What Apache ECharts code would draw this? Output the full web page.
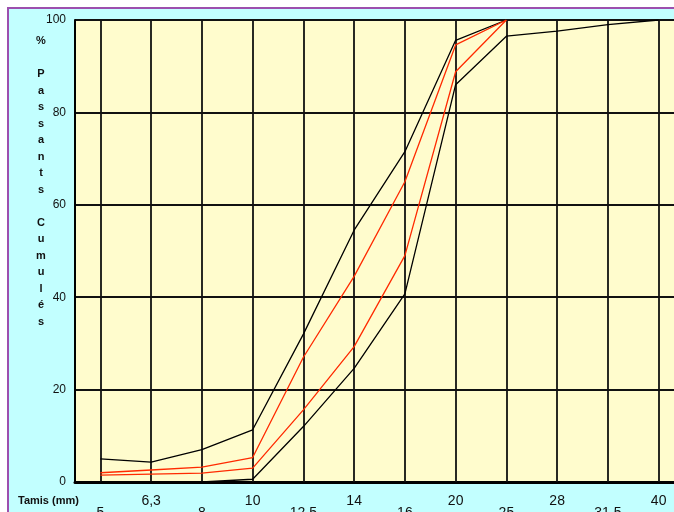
<!DOCTYPE html>
<html><head><meta charset="utf-8">
<script src="https://cdn.jsdelivr.net/npm/echarts@6/dist/echarts.min.js"></script>
<style>html,body{margin:0;padding:0;background:#fff}#c{width:674px;height:512px}</style>
</head><body><div id="c"></div>
<script>
// Sieve sizes (mm)
const sieves = ['5', '6,3', '8', '10', '12,5', '14', '16', '20', '25', '28', '31,5', '40'];
// Black envelope curves (% passing)
const upperLimit = [5, 4.3, 7, 11.3, 32, 54.5, 71.5, 95.6, 100, null, null, null];
const lowerLimit = [0, 0, 0, 0.6, 12, 24.6, 40.7, 86, 96.5, 97.6, 99, 100];
// Red curves (% passing)
const upperRed = [2, 2.6, 3.2, 5.3, 27, 44.5, 65, 94.6, 100, null, null, null];
const lowerRed = [1.5, 1.7, 1.9, 3, 15.6, 29.3, 49, 88.8, 100, null, null, null];
const yTicks = [0, 20, 40, 60, 80, 100];
const yTitle = '%\n\nP\na\ns\ns\na\nn\nt\ns\n\nC\nu\nm\nu\nl\né\ns';

const chart = echarts.init(document.getElementById('c'));
const lineS = (name, data, color) => ({
  name, type: 'line', data, symbol: 'none', connectNulls: false,
  lineStyle: { color, width: 1.3 }, z: 5, animation: false
});
const grid = {
  ...lineS('grid', [], '#000'),
  markLine: {
    silent: true, symbol: 'none', animation: false,
    label: { show: false },
    lineStyle: { color: '#111', width: 1.8, type: 'solid' },
    data: sieves.map((s, i) => ({ xAxis: i }))
  },
  z: 2
};
chart.setOption({
  backgroundColor: '#fff',
  animation: false,
  graphic: [
    { type: 'rect', z: -10, shape: { x: 8, y: 8, width: 720, height: 560 },
      style: { fill: '#c2ffff', stroke: '#9c4fae', lineWidth: 2 } },
    { type: 'text', x: 41, y: 33, z: 10,
      style: { text: yTitle, font: 'bold 11px Arial', lineHeight: 16.5,
        textAlign: 'center', align: 'center', textVerticalAlign: 'top', verticalAlign: 'top', fill: '#111' } },
    { type: 'text', x: 18, y: 501, z: 10,
      style: { text: 'Tamis (mm)', font: 'bold 11px Arial', textAlign: 'left', align: 'left',
        textVerticalAlign: 'middle', verticalAlign: 'middle', fill: '#111' } }
  ],
  grid: { left: 75, top: 20, right: -10, bottom: 30, show: true, backgroundColor: '#fffccd', borderWidth: 0,
    containLabel: false, outerBoundsMode: 'none' },
  xAxis: [
    { type: 'category', data: sieves, boundaryGap: true,
      axisLine: { show: true, lineStyle: { color: '#000', width: 3 } },
      axisTick: { show: false }, splitLine: { show: false },
      axisLabel: { interval: 0, margin: 12, fontFamily: 'Arial', fontSize: 14, color: '#111',
        formatter: (v, i) => (i % 2 === 1 ? v : '') } },
    { type: 'category', data: sieves, boundaryGap: true, position: 'bottom', offset: 12,
      axisLine: { show: false }, axisTick: { show: false }, splitLine: { show: false },
      axisLabel: { interval: 0, margin: 12, fontFamily: 'Arial', fontSize: 14, color: '#111',
        formatter: (v, i) => (i % 2 === 0 ? v : '') } }
  ],
  yAxis: {
    type: 'value', min: 0, max: 100, interval: 20,
    axisLine: { show: true, lineStyle: { color: '#000', width: 2 } },
    axisTick: { show: false },
    splitLine: { show: true, lineStyle: { color: '#111', width: 1.8 } },
    axisLabel: { margin: 9, fontFamily: 'Arial', fontSize: 12, color: '#111',
      formatter: v => (yTicks.includes(v) ? String(v) : '') }
  },
  series: [
    grid,
    lineS('Limite sup.', upperLimit, '#000'),
    lineS('Limite inf.', lowerLimit, '#000'),
    lineS('Courbe sup.', upperRed, '#ff2a00'),
    lineS('Courbe inf.', lowerRed, '#ff2a00')
  ]
});
</script></body></html>
